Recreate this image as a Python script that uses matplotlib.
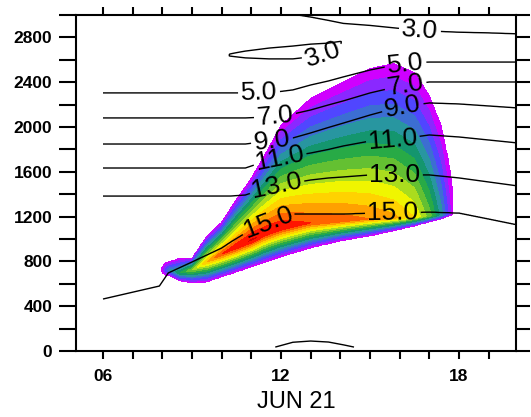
import numpy as np
import matplotlib
matplotlib.use("Agg")
import matplotlib.pyplot as plt

plt.rcParams['font.family'] = ['Liberation Sans', 'DejaVu Sans']

# ---- Temperature (deg C): height (m) of each isotherm at selected hours, JUN 21
t_hours = [6, 7.9, 8.2, 9, 10, 10.3, 10.8, 11.6, 12.4, 13, 13.6, 14.1, 15, 16, 17, 18, 19, 20]
z_17 = [-300, -220, -200, -170, -100, -70, -30, 20, 78, 89, 80, 55, 5, -60, -120, -180, -240, -300]
z_15 = [464, 580, 697, 795, 920, 973, 1054, 1152, 1223, 1223, 1223, 1223, 1232, 1232, 1241, 1232, 1179, 1125]
z_13 = [1384, 1384, 1384, 1384, 1384, 1384, 1393, 1465, 1500, 1527, 1545, 1554, 1572, 1572, 1572, 1545, 1509, 1473]
z_11 = [1634, 1634, 1634, 1634, 1634, 1634, 1634, 1706, 1741, 1768, 1800, 1831, 1875, 1893, 1929, 1911, 1884, 1857]
z_9 = [1848, 1848, 1848, 1848, 1848, 1848, 1848, 1875, 1902, 1947, 1996, 2035, 2107, 2179, 2215, 2206, 2188, 2170]
z_7 = [2081, 2081, 2081, 2081, 2081, 2081, 2081, 2090, 2116, 2152, 2197, 2233, 2304, 2366, 2402, 2402, 2402, 2402]
z_5 = [2304, 2304, 2304, 2304, 2304, 2304, 2304, 2304, 2331, 2375, 2411, 2447, 2509, 2563, 2581, 2581, 2581, 2581]
z_3 = [3400, 3350, 3340, 3300, 3250, 3230, 3200, 3120, 3008, 2982, 2952, 2925, 2907, 2880, 2857, 2846, 2840, 2831]

# cold pocket near 2650 m: sample heights and temperatures around it
pocket_below = [2600, 2600, 2600, 2600, 2610, 2615, 2601, 2592, 2592, 2610, 2646, 2740, 2620, 2620, 2620, 2620, 2620, 2620]
pocket_low = [2630, 2630, 2630, 2630, 2635, 2635, 2631, 2622, 2622, 2640, 2676, 2760, 2650, 2650, 2650, 2650, 2650, 2650]
pocket_high = [2660, 2660, 2660, 2660, 2650, 2650, 2664, 2691, 2709, 2726, 2735, 2770, 2700, 2700, 2700, 2700, 2700, 2700]
pocket_above = [2690, 2690, 2690, 2690, 2675, 2675, 2694, 2721, 2739, 2756, 2765, 2790, 2760, 2760, 2760, 2760, 2760, 2760]
pocket_edge_temp = [3.35] * 18
pocket_core_temp = [3.3, 3.3, 3.3, 3.3, 3.3, 2.95, 2.7, 2.7, 2.7, 2.7, 2.7, 3.05, 3.3, 3.3, 3.3, 3.3, 3.3, 3.3]

# near-surface temperature below the lowest isotherm
surface_temp = 19

isotherms = [3, 5, 7, 9, 11, 13, 15, 17]
labelled = [3, 5, 7, 9, 11, 13, 15]

# ---- Shaded quantity: base, level of maximum, top (m) and peak value per hour
b_hours = [7.98, 8.12, 8.25, 8.6, 9.0, 9.5, 10.0, 10.5, 11.0, 11.5, 12.0, 13.0, 14.0, 15.0, 15.8, 16.5, 17.0, 17.4, 17.65, 17.8]
b_base = [700, 672, 670, 625, 607, 616, 661, 705, 750, 795, 839, 920, 982, 1027, 1072, 1116, 1152, 1179, 1205, 1214]
b_core = [723, 723, 723, 697, 723, 795, 866, 929, 991, 1054, 1098, 1143, 1161, 1179, 1188, 1197, 1206, 1214, 1223, 1232]
b_top = [750, 790, 800, 830, 830, 1027, 1152, 1357, 1545, 1777, 2018, 2259, 2393, 2527, 2572, 2491, 2286, 2018, 1706, 1438]
b_peak = [0, 2.5, 4, 6, 8, 11, 13, 14, 14.6, 14.2, 14, 13, 12.6, 12, 11.3, 10, 7.5, 4.5, 1.8, 0]

fill_levels = [0.05, 1, 2, 3, 4, 5, 6, 7, 8, 9, 10, 11, 12, 13, 14.45, 20]
fill_colors = ['#cf00ff', '#8a28ff', '#5046ff', '#3c6ed2', '#2896a0', '#14966e',
               '#28aa46', '#64c032', '#aadc1e', '#f0f500', '#ffd200', '#ffa000',
               '#ff6400', '#ff1400', '#d20000']

hour_ticks = list(range(6, 20))
hour_labels = {6: '06', 12: '12', 18: '18'}
height_ticks = list(range(0, 3001, 200))

# ---- grids
t_fine = np.linspace(6, 20, 701)
z_fine = np.arange(35, 3001, 4.0)
n = len(t_hours)

knot_z = [[-1000] * n, z_17, z_15, z_13, z_11, z_9, z_7, z_5,
          pocket_below, pocket_low, pocket_high, pocket_above, z_3, [4000] * n]
knot_T = [[surface_temp] * n, [17] * n, [15] * n, [13] * n, [11] * n, [9] * n, [7] * n, [5] * n,
          pocket_edge_temp, pocket_core_temp, pocket_core_temp, pocket_edge_temp,
          [3] * n, [0] * n]
kz = np.array([np.interp(t_fine, t_hours, row) for row in knot_z])
kT = np.array([np.interp(t_fine, t_hours, row) for row in knot_T])
temp = np.empty((len(z_fine), len(t_fine)))
for j in range(len(t_fine)):
    temp[:, j] = np.interp(z_fine, kz[:, j], kT[:, j])

base = np.interp(t_fine, b_hours, b_base)
core = np.interp(t_fine, b_hours, b_core)
top = np.interp(t_fine, b_hours, b_top)
peak = np.interp(t_fine, b_hours, b_peak)
shade = np.empty_like(temp)
for j in range(len(t_fine)):
    shade[:, j] = np.interp(z_fine,
                            [base[j] - 1, base[j], core[j], top[j], top[j] + 1],
                            [-1, 0, peak[j], 0, -1])

# ---- figure
fig = plt.figure(figsize=(5.31, 4.17), dpi=100)
ax = fig.add_axes([76 / 531, 1 - 351 / 417, 440 / 531, 336 / 417])

ax.contourf(t_fine, z_fine, shade, levels=fill_levels, colors=fill_colors)
cs = ax.contour(t_fine, z_fine, temp, levels=isotherms, colors='black', linewidths=1.0)

label_spots = [(16.68, 2857), (13.4, 2650),
               (11.26, 2304), (16.2, 2550),
               (11.8, 2090), (16.2, 2366),
               (11.7, 1866), (16.1, 2180),
               (11.97, 1706), (15.77, 1890),
               (11.86, 1465), (15.84, 1572),
               (11.56, 1152), (15.77, 1232)]
ax.clabel(cs, levels=labelled, fmt='%.1f', fontsize=19, inline=True,
          inline_spacing=4, manual=label_spots)

ax.set_xlim(5.09, 19.92)
ax.set_ylim(0, 3000)
ax.set_xticks(hour_ticks)
ax.set_xticklabels([hour_labels.get(h, '') for h in hour_ticks],
                   fontsize=12.5, fontweight='bold')
ax.set_yticks(height_ticks)
ax.set_yticklabels([str(v) if v % 400 == 0 and v < 3000 else '' for v in height_ticks],
                   fontsize=12.5, fontweight='bold')
ax.tick_params(axis='x', direction='out', length=6, width=1.5, top=True, pad=7)
ax.tick_params(axis='y', direction='out', length=12, width=1.5, right=True, pad=5)
for tk in ax.yaxis.get_major_ticks():
    tk.tick2line.set_markersize(10)
for sp in ax.spines.values():
    sp.set_linewidth(1.5)
    sp.set_color('black')

ax.set_xlabel('JUN 21', fontsize=17)
ax.xaxis.set_label_coords(0.5, -0.118)

fig.savefig('out.png', dpi=100)
